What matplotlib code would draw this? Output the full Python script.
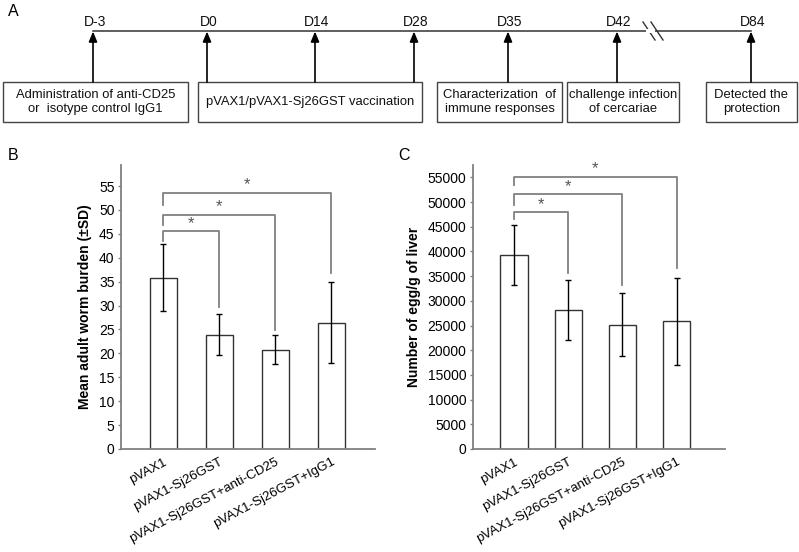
import matplotlib
matplotlib.use("Agg")
import matplotlib.pyplot as plt
from matplotlib.patches import Rectangle
from matplotlib.transforms import ScaledTranslation

plt.rcParams['font.family'] = ['Liberation Sans', 'DejaVu Sans']

# ---------------- data ----------------
groups = ['pVAX1', 'pVAX1-Sj26GST', 'pVAX1-Sj26GST+anti-CD25', 'pVAX1-Sj26GST+IgG1']

worm_mean = [35.8, 23.9, 20.8, 26.4]
worm_sd = [7.0, 4.3, 3.1, 8.5]
worm_ticks = [0, 5, 10, 15, 20, 25, 30, 35, 40, 45, 50, 55]
# brackets: (to group, horizontal level, left leg bottom, right leg bottom)
worm_brackets = [(1, 45.5, 43.6, 29.8), (2, 49.0, 46.9, 24.9), (3, 53.5, 51.0, 36.8)]

egg_mean = [39300, 28200, 25200, 25900]
egg_sd = [6100, 6100, 6300, 8800]
egg_ticks = [0, 5000, 10000, 15000, 20000, 25000, 30000, 35000, 40000, 45000, 50000, 55000]
egg_brackets = [(1, 47900, 46500, 35600), (2, 51550, 49400, 33200), (3, 55100, 53400, 36600)]

days = ['D-3', 'D0', 'D14', 'D28', 'D35', 'D42', 'D84']
boxes = ['Administration of anti-CD25\nor  isotype control IgG1',
         'pVAX1/pVAX1-Sj26GST vaccination',
         'Characterization  of\nimmune responses',
         'challenge infection\nof cercariae',
         'Detected the\nprotection']

W, H = 799, 552
fig = plt.figure(figsize=(W / 100, H / 100), dpi=100)

GRAY = '#808080'
DARK = '#333333'

# ---------------- panel A (pixel coordinate overlay) ----------------
ov = fig.add_axes([0, 0, 1, 1])
ov.set_xlim(0, W)
ov.set_ylim(H, 0)
ov.axis('off')

day_x = [93, 207, 315, 414, 508, 617, 751]
line_y = 31
ov.plot([day_x[0], day_x[-1]], [line_y, line_y], color=DARK, lw=1.1)
# break marks
for bx in (643, 651):
    ov.plot([bx, bx + 12], [22, 40], color=DARK, lw=1.0)
ov.add_patch(Rectangle((646, 29), 9, 4, facecolor='white', edgecolor='none', zorder=3))

box_top = 82
for d, x in zip(days, day_x):
    ov.text(x + 2, 22, d, ha='center', va='center', fontsize=10, color='#111111')
    ov.annotate('', xy=(x, line_y + 0.5), xytext=(x, box_top),
                arrowprops=dict(arrowstyle='-|>,head_width=0.25,head_length=0.6',
                                color='black', lw=1.2, shrinkA=0, shrinkB=0))

box_geo = [(3, 188), (198, 422), (437, 562), (567, 679), (706, 797)]
for (x0, x1), t in zip(box_geo, boxes):
    ov.add_patch(Rectangle((x0, box_top), x1 - x0, 40, facecolor='white',
                           edgecolor='#444444', lw=1.0, zorder=2))
    ov.text((x0 + x1) / 2, box_top + 20, t, ha='center', va='center',
            fontsize=9.4, linespacing=1.2, zorder=3, color='#111111')

ov.text(8, 12, 'A', fontsize=11.5, ha='left', va='center')
ov.text(8, 155, 'B', fontsize=11.5, ha='left', va='center')
ov.text(398, 155, 'C', fontsize=11.5, ha='left', va='center')


def bar_panel(rect, means, sds, ticks, ylim, xlim, width, brackets, ylabel):
    ax = fig.add_axes(rect)
    x = list(range(len(means)))
    ax.bar(x, means, width=width, facecolor='white', edgecolor=DARK, lw=1.0, zorder=2)
    ax.errorbar(x, means, yerr=sds, fmt='none', ecolor='black', elinewidth=1.0,
                capsize=2.5, capthick=1.0, zorder=3)
    ax.set_ylim(*ylim)
    ax.set_xlim(*xlim)
    ax.set_yticks(ticks)
    ax.set_yticklabels([str(t) for t in ticks])
    ax.set_xticks(x)
    ax.set_xticklabels(groups, rotation=28, ha='right', rotation_mode='anchor',
                       fontsize=9.6)
    shift = ScaledTranslation(6 / 100, 0, fig.dpi_scale_trans)
    for lab in ax.get_xticklabels():
        lab.set_transform(lab.get_transform() + shift)
    ax.tick_params(axis='y', labelsize=10, length=2.5, width=1, color=GRAY, pad=2)
    ax.tick_params(axis='x', length=0, pad=5)
    for s in ('top', 'right'):
        ax.spines[s].set_visible(False)
    for s in ('left', 'bottom'):
        ax.spines[s].set_color(GRAY)
        ax.spines[s].set_linewidth(1.3)
    ax.set_ylabel(ylabel, fontsize=10, fontweight='bold', labelpad=5)
    for j, yh, yl, yr in brackets:
        ax.plot([0, 0, j, j], [yl, yh, yh, yr], color=GRAY, lw=1.3, zorder=1,
                clip_on=False)
        ax.annotate('*', xy=(j / 2, yh), xytext=(0, 0.5), textcoords='offset points',
                    ha='center', va='bottom', fontsize=12, color='#555555')
    return ax


bar_panel([120.7 / W, 1 - 449 / H, (375 - 120.7) / W, (449 - 165) / H],
          worm_mean, worm_sd, worm_ticks, (0, 59.4), (-0.76, 3.78), 0.48,
          worm_brackets, 'Mean adult worm burden (±SD)')

bar_panel([472.7 / W, 1 - 449 / H, (725 - 472.7) / W, (449 - 165) / H],
          egg_mean, egg_sd, egg_ticks, (0, 57500), (-0.76, 3.89), 0.5,
          egg_brackets, 'Number of egg/g of liver')

fig.savefig('out.png', dpi=100)
